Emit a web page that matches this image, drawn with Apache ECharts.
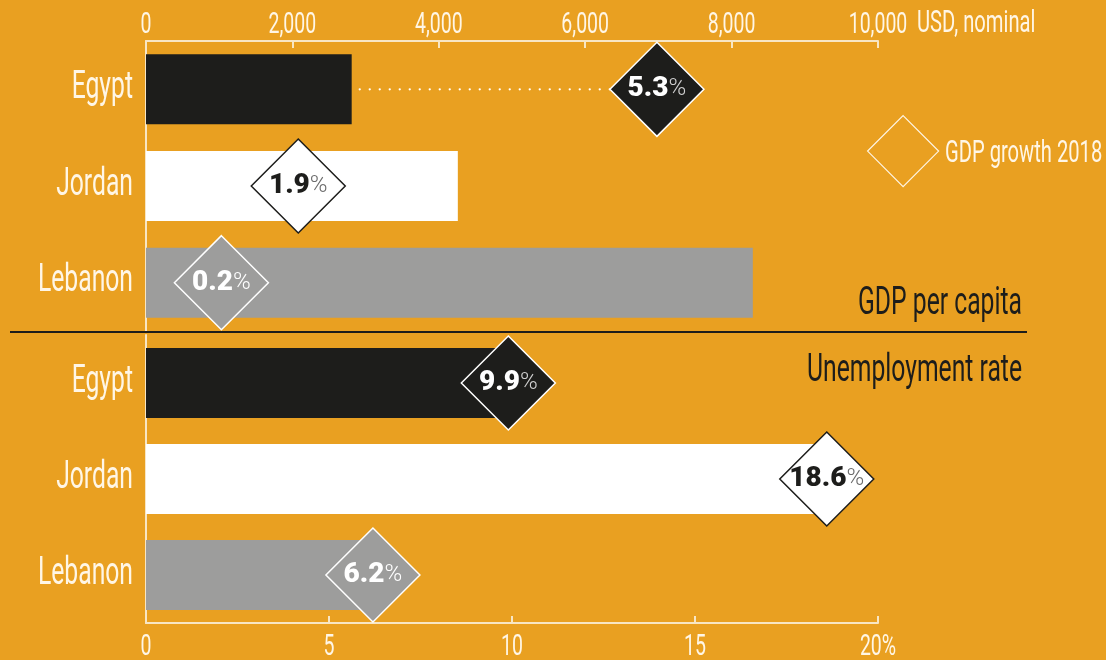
<!DOCTYPE html>
<html>
<head>
<meta charset="utf-8">
<script src="https://cdn.jsdelivr.net/npm/echarts@6/dist/echarts.min.js"></script>
<style>
  html, body { margin: 0; padding: 0; background: #E9A021; }
  #chart { width: 1106px; height: 660px; }
</style>
</head>
<body>
<div id="chart"></div>
<script>
// Data
const countries = ['Egypt', 'Jordan', 'Lebanon'];
const gdpPerCapita = [2810, 4260, 8290];          // USD, nominal
const gdpGrowth2018 = [5.3, 1.9, 0.2];            // %
const growthMarkerAt = [6980, 2080, 1030];        // USD-axis position of each growth diamond
const unemploymentRate = [9.9, 18.6, 6.2];        // %
const usdTicks = [0, 2000, 4000, 6000, 8000, 10000];
const rateTicks = [0, 5, 10, 15, 20];

// Styles
const FONT = "Roboto, 'Noto Sans', sans-serif";
const SQUISH = 0.65;                 // horizontal squeeze giving the condensed lettering
const BG = '#E9A021';
const CREAM = '#FFF6E6';
const AXIS = '#F8E6C4';
const INK = '#1D1D1B';
const fills = ['#1D1D1B', '#FFFFFF', '#9D9D9C'];
const diamondBorders = ['#FFFFFF', '#1D1D1B', '#FFFFFF'];
const numStyle = ['bw', 'bk', 'bw'];
const pctStyle = ['pw', 'pk', 'pl'];

const rich = {
  bw: { fontFamily: FONT, fontWeight: 900, fontSize: 28, color: '#FFFFFF' },
  bk: { fontFamily: FONT, fontWeight: 900, fontSize: 28, color: '#1D1D1B' },
  pw: { fontFamily: FONT, fontWeight: 300, fontSize: 24, color: '#D0D0D0' },
  pk: { fontFamily: FONT, fontWeight: 300, fontSize: 24, color: '#6A6A6A' },
  pl: { fontFamily: FONT, fontWeight: 300, fontSize: 24, color: '#FFFFFF' }
};

const commas = v => String(v).replace(/\B(?=(\d{3})+(?!\d))/g, ',');

function barData(values) {
  return values.map((v, i) => ({ value: v, itemStyle: { color: fills[i] } }));
}

function diamondData(xs) {
  return xs.map((x, i) => ({
    value: [x, countries[i]],
    itemStyle: { color: fills[i], borderColor: diamondBorders[i], borderWidth: 1.5, opacity: 1 }
  }));
}

function diamondLabel(values) {
  return {
    show: true,
    position: 'inside',
    formatter: p => `{${numStyle[p.dataIndex]}|${values[p.dataIndex]}}{${pctStyle[p.dataIndex]}|%}`,
    rich
  };
}

const categoryAxis = gridIndex => ({
  type: 'category',
  gridIndex,
  data: countries,
  inverse: true,
  axisLine: { show: true, lineStyle: { color: AXIS, width: 2 } },
  axisTick: { show: false },
  axisLabel: { show: false }
});

const valueAxis = (gridIndex, position, ticks) => ({
  type: 'value', gridIndex, position,
  min: ticks[0], max: ticks[ticks.length - 1], interval: ticks[1] - ticks[0],
  axisLine: { show: true, lineStyle: { color: AXIS, width: 2 } },
  axisTick: { show: true, inside: true, length: 7, lineStyle: { color: AXIS, width: 2 } },
  axisLabel: { show: false },
  splitLine: { show: false }
});

const chart = echarts.init(document.getElementById('chart'), null, { renderer: 'canvas' });

chart.setOption({
  backgroundColor: BG,
  animation: false,
  textStyle: { fontFamily: FONT },
  grid: [
    { left: 146, width: 732, top: 41, height: 290 },
    { left: 146, width: 732, top: 335, height: 288 }
  ],
  xAxis: [valueAxis(0, 'top', usdTicks), valueAxis(1, 'bottom', rateTicks)],
  yAxis: [categoryAxis(0), categoryAxis(1)],
  legend: {
    data: ['GDP growth 2018'],
    left: 862, top: 110,
    icon: 'diamond',
    itemWidth: 71, itemHeight: 71,
    itemStyle: { color: 'transparent', borderColor: CREAM, borderWidth: 1.2 },
    formatter: () => '',
    selectedMode: false
  },
  series: [
    {
      name: 'GDP per capita', type: 'bar', xAxisIndex: 0, yAxisIndex: 0,
      barWidth: 70, z: 2, data: barData(gdpPerCapita)
    },
    {
      name: 'leader', type: 'line', xAxisIndex: 0, yAxisIndex: 0, z: 3,
      symbol: 'none', silent: true,
      lineStyle: { color: '#FFFFFF', width: 2.2, type: [0.1, 9.9], dashOffset: 2, cap: 'round' },
      data: [[gdpPerCapita[0], countries[0]], [growthMarkerAt[0], countries[0]]]
    },
    {
      name: 'GDP growth 2018', type: 'scatter', xAxisIndex: 0, yAxisIndex: 0, z: 4,
      symbol: 'diamond', symbolSize: 94,
      itemStyle: { opacity: 1 },
      data: diamondData(growthMarkerAt),
      label: diamondLabel(gdpGrowth2018)
    },
    {
      name: 'Unemployment rate', type: 'bar', xAxisIndex: 1, yAxisIndex: 1,
      barWidth: 70, z: 2, data: barData(unemploymentRate)
    },
    {
      name: 'Unemployment marker', type: 'scatter', xAxisIndex: 1, yAxisIndex: 1, z: 4,
      symbol: 'diamond', symbolSize: 94,
      itemStyle: { opacity: 1 },
      data: diamondData(unemploymentRate),
      label: diamondLabel(unemploymentRate)
    }
  ]
});

// Condensed lettering: tick labels, category names and headings are placed
// through the axes' own scales and squeezed horizontally.
function condensed(x, y, text, size, color, align) {
  return {
    type: 'text', x, y, scaleX: SQUISH, z: 20, silent: true,
    style: { text, fill: color, font: `${size}px ${FONT}`, align, verticalAlign: 'middle' }
  };
}

const els = [
  {
    type: 'line', z: 10, silent: true,
    shape: { x1: 10, y1: 332, x2: 1027, y2: 332 },
    style: { stroke: INK, lineWidth: 2 }
  }
];

const topAxisY = chart.convertToPixel({ yAxisIndex: 0 }, countries[0]) - 48;
const bottomAxisY = chart.convertToPixel({ yAxisIndex: 1 }, countries[2]) + 47;

usdTicks.forEach(v => {
  els.push(condensed(chart.convertToPixel({ xAxisIndex: 0 }, v), topAxisY - 16, commas(v), 30, CREAM, 'center'));
});
rateTicks.forEach((v, i) => {
  const t = i === rateTicks.length - 1 ? v + '%' : String(v);
  els.push(condensed(chart.convertToPixel({ xAxisIndex: 1 }, v), bottomAxisY + 25, t, 30, CREAM, 'center'));
});
[0, 1].forEach(ax => {
  countries.forEach(c => {
    const y = chart.convertToPixel({ yAxisIndex: ax }, c);
    els.push(condensed(133, y - 1, c, 38, CREAM, 'right'));
  });
});

els.push(condensed(917, 24, 'USD, nominal', 31, CREAM, 'left'));
els.push(condensed(945, 154, 'GDP growth 2018', 31, CREAM, 'left'));
els.push(condensed(1022, 304, 'GDP per capita', 38, INK, 'right'));
els.push(condensed(1022, 371, 'Unemployment rate', 38, INK, 'right'));

chart.setOption({ graphic: { elements: els } });
</script>
</body>
</html>
